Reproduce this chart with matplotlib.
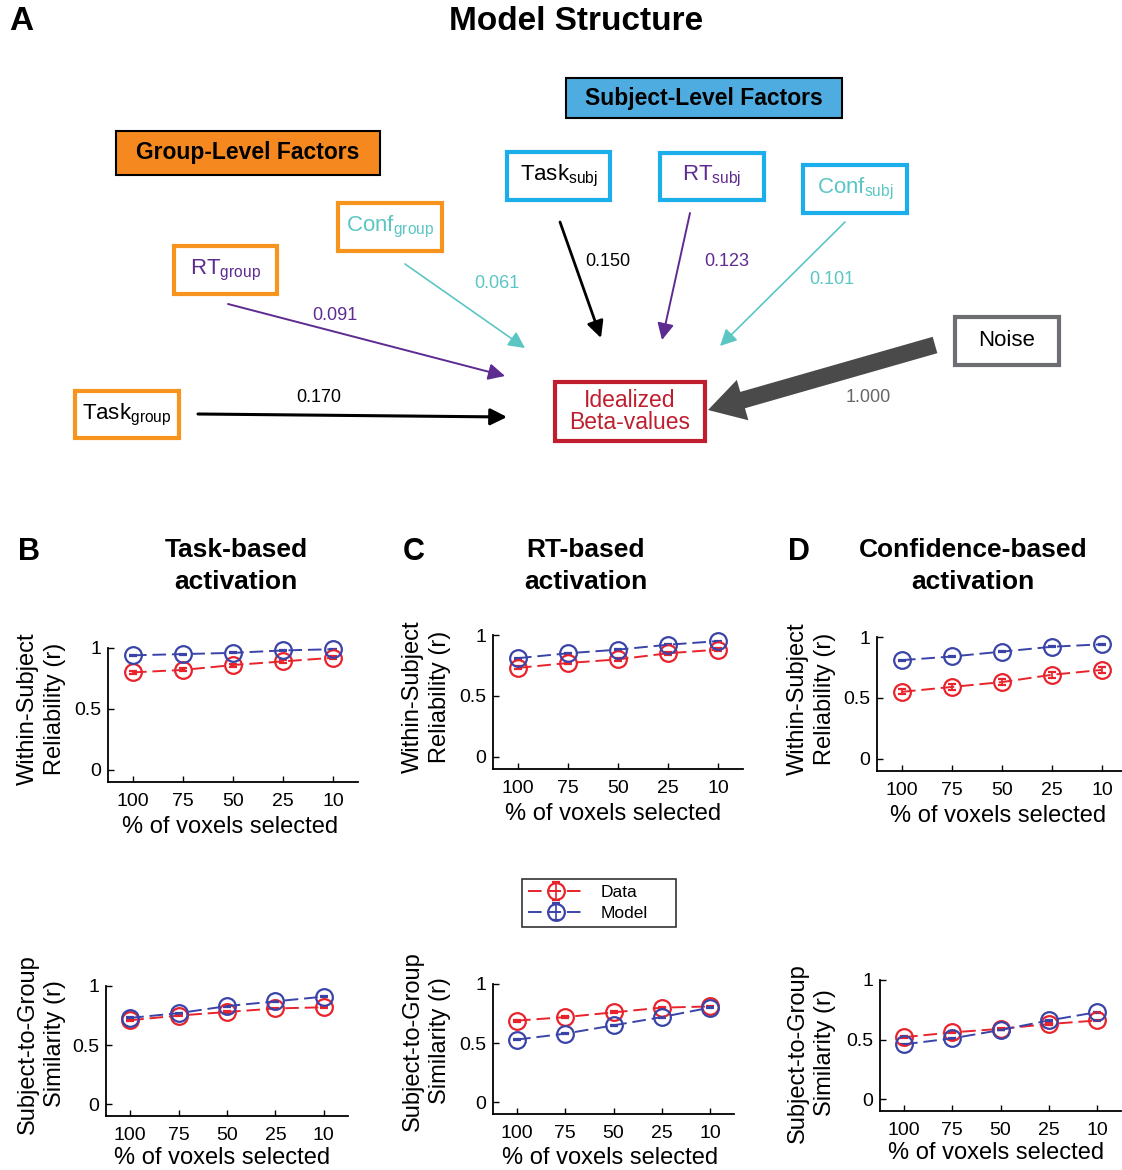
import matplotlib.pyplot as plt
import numpy as np
from matplotlib.patches import Rectangle, FancyArrowPatch, FancyArrow

plt.rcParams['font.family'] = ['Liberation Sans', 'DejaVu Sans']
plt.rcParams['mathtext.default'] = 'regular'

W, H = 1122, 1170
fig = plt.figure(figsize=[W / 100, H / 100], dpi=100)

# ---- data ----
pct_labels = ['100', '75', '50', '25', '10']

task_within_data = [0.80, 0.82, 0.86, 0.89, 0.92]
task_within_model = [0.94, 0.95, 0.96, 0.98, 0.99]
rt_within_data = [0.73, 0.77, 0.80, 0.85, 0.88]
rt_within_model = [0.81, 0.85, 0.88, 0.92, 0.95]
conf_within_data = [0.55, 0.59, 0.63, 0.69, 0.73]
conf_within_model = [0.81, 0.84, 0.88, 0.92, 0.94]

task_group_data = [0.71, 0.75, 0.78, 0.81, 0.82]
task_group_model = [0.73, 0.77, 0.83, 0.87, 0.91]
rt_group_data = [0.69, 0.72, 0.76, 0.80, 0.81]
rt_group_model = [0.53, 0.58, 0.65, 0.72, 0.80]
conf_group_data = [0.52, 0.56, 0.59, 0.63, 0.66]
conf_group_model = [0.46, 0.51, 0.58, 0.66, 0.73]

within_data_err = [0.012, 0.012, 0.012, 0.012, 0.012]
conf_within_data_err = [0.022, 0.025, 0.022, 0.025, 0.025]
group_data_err = [0.008, 0.008, 0.008, 0.008, 0.008]
model_err = [0.004, 0.004, 0.004, 0.004, 0.004]

# path weights of the model diagram
w_task_group, w_rt_group, w_conf_group = 0.170, 0.091, 0.061
w_task_subj, w_rt_subj, w_conf_subj = 0.150, 0.123, 0.101
w_noise = 1.000

RED = '#E8232B'
BLUE = '#3A44A8'
ORANGE = '#F7941D'
CYAN = '#1BAEEA'
PURPLE = '#5E2B91'
TEAL = '#5BC6C4'
DARKRED = '#BE1E2D'

# ---- panel A: diagram drawn in pixel coordinates ----
ax0 = fig.add_axes([0, 0, 1, 1])
ax0.set_xlim(0, W)
ax0.set_ylim(H, 0)
ax0.axis('off')

ax0.text(9, 21, 'A', fontsize=24, fontweight='bold', va='center')
ax0.text(576, 21, 'Model Structure', fontsize=24, fontweight='bold', ha='center', va='center')


def node(x0, y0, x1, y1, s, tcol, ecol, fc='white', lw=3, fs=16, bold=False):
    ax0.add_patch(Rectangle((x0, y0), x1 - x0, y1 - y0, fc=fc, ec=ecol, lw=lw))
    ax0.text((x0 + x1) / 2, (y0 + y1) / 2, s, color=tcol, ha='center', va='center',
             fontsize=fs, fontweight='bold' if bold else 'normal', linespacing=0.9)


node(116, 131, 380, 175, 'Group-Level Factors', 'black', 'black', fc='#F5891F', lw=1.5, fs=16.5, bold=True)
node(566, 78, 842, 118, 'Subject-Level Factors', 'black', 'black', fc='#4FACE0', lw=1.5, fs=16.5, bold=True)

node(507, 152, 610, 200, r'Task$_{subj}$', 'black', CYAN)
node(660, 153, 764, 200, r'RT$_{subj}$', PURPLE, CYAN)
node(803, 165, 907, 213, r'Conf$_{subj}$', TEAL, CYAN)
node(338, 203, 442, 251, r'Conf$_{group}$', TEAL, ORANGE)
node(174, 246, 277, 294, r'RT$_{group}$', PURPLE, ORANGE)
node(75, 391, 179, 438, r'Task$_{group}$', 'black', ORANGE)
node(955, 317, 1059, 365, 'Noise', 'black', '#6D6E71')
node(555, 382, 705, 441, 'Idealized\nBeta-values', DARKRED, DARKRED, fs=16.5)


def arrow(p0, p1, color, lw, hl=10, hw=5):
    ax0.add_patch(FancyArrowPatch(p0, p1, arrowstyle=f'-|>,head_length={hl},head_width={hw}',
                                  color=color, lw=lw, shrinkA=0, shrinkB=0))


arrow((198, 414), (507, 417), 'black', 2.2)
arrow((228, 304), (505, 376), PURPLE, 1.4)
arrow((405, 264), (525, 348), TEAL, 1.2)
arrow((560, 222), (601, 338), 'black', 2.0)
arrow((690, 213), (662, 340), PURPLE, 1.4)
arrow((845, 222), (720, 346), TEAL, 1.2)
ax0.add_patch(FancyArrow(935, 345, 708 - 935, 410 - 345, width=17, head_width=42,
                         head_length=36, length_includes_head=True, color='#4A4A4A', lw=0))

fmt = '{:.3f}'
ax0.text(319, 398, fmt.format(w_task_group), fontsize=13, ha='center', va='center')
ax0.text(335, 316, fmt.format(w_rt_group), fontsize=13, ha='center', va='center', color=PURPLE)
ax0.text(497, 283, fmt.format(w_conf_group), fontsize=13, ha='center', va='center', color=TEAL)
ax0.text(608, 262, fmt.format(w_task_subj), fontsize=13, ha='center', va='center')
ax0.text(727, 261, fmt.format(w_rt_subj), fontsize=13, ha='center', va='center', color=PURPLE)
ax0.text(832, 279, fmt.format(w_conf_subj), fontsize=13, ha='center', va='center', color=TEAL)
ax0.text(868, 398, fmt.format(w_noise), fontsize=13, ha='center', va='center', color='#666666')

# ---- panel titles ----
for letter, lx, title, tx in [('B', 18, 'Task-based\nactivation', 236),
                               ('C', 403, 'RT-based\nactivation', 586),
                               ('D', 788, 'Confidence-based\nactivation', 973)]:
    ax0.text(lx, 552, letter, fontsize=22, fontweight='bold', va='center')
    ax0.text(tx, 566, title, fontsize=19, fontweight='bold', ha='center', va='center', linespacing=1.45)

# ---- line plots ----
x = np.arange(1, 6)
panels = [
    # left, top, right, bottom, data, data_err, model, ylabel, ylab x, ylab y, xlab x, xlab y
    (108, 648, 358, 782, task_within_data, within_data_err, task_within_model,
     'Within-Subject\nReliability (r)', 41, 709, 230, 827),
    (493, 635, 743, 769, rt_within_data, within_data_err, rt_within_model,
     'Within-Subject\nReliability (r)', 426, 697, 613, 814),
    (877, 637, 1127, 771, conf_within_data, conf_within_data_err, conf_within_model,
     'Within-Subject\nReliability (r)', 811, 699, 998, 816),
    (106, 986, 348, 1116, task_group_data, group_data_err, task_group_model,
     'Subject-to-Group\nSimilarity (r)', 41, 1044, 222, 1158),
    (493, 984, 734, 1114, rt_group_data, group_data_err, rt_group_model,
     'Subject-to-Group\nSimilarity (r)', 426, 1041, 610, 1158),
    (880, 980, 1121, 1111, conf_group_data, group_data_err, conf_group_model,
     'Subject-to-Group\nSimilarity (r)', 811, 1053, 996, 1153),
]

handles = None
for l, t, r, b, dat, derr, mod, ylab, ylx, yly, xlx, xly in panels:
    ax = fig.add_axes([l / W, 1 - b / H, (r - l) / W, (b - t) / H])
    ax.patch.set_alpha(0)
    hd = ax.errorbar(x, dat, yerr=derr, fmt='o--', color=RED, mfc='none', mec=RED,
                     ms=12, mew=1.6, lw=1.4, capsize=3, elinewidth=1.2, clip_on=False, label='Data')
    hm = ax.errorbar(x, mod, yerr=model_err, fmt='o--', color=BLUE, mfc='none', mec=BLUE,
                     ms=12, mew=1.6, lw=1.4, capsize=3, elinewidth=1.2, clip_on=False, label='Model')
    hd[0].set_dashes([7, 3])
    hm[0].set_dashes([7, 3])
    handles = [hd, hm]
    ax.set_xlim(0.5, 5.5)
    ax.set_ylim(-0.1, 1.0)
    ax.set_xticks(x)
    ax.set_xticklabels(pct_labels)
    ax.set_yticks([0, 0.5, 1])
    ax.set_yticklabels(['0', '0.5', '1'])
    ax.spines['top'].set_visible(False)
    ax.spines['right'].set_visible(False)
    ax.spines['left'].set_linewidth(1.3)
    ax.spines['bottom'].set_linewidth(1.3)
    ax.tick_params(direction='in', length=4, width=1, labelsize=14)
    ax.tick_params(axis='x', pad=8)
    ax.tick_params(axis='y', pad=5)
    ax0.text(ylx, yly, ylab, rotation=90, fontsize=17, ha='center', va='center', linespacing=1.3)
    ax0.text(xlx, xly, '% of voxels selected', fontsize=17, ha='center', va='center')

leg = fig.legend(handles, ['Data', 'Model'], loc='upper left',
                 bbox_to_anchor=(522 / W, 1 - 929 / H, 154 / W, 50 / H), mode='expand',
                 fontsize=12.5, frameon=True, fancybox=False, edgecolor='black',
                 handlelength=3.2, borderpad=0.35, labelspacing=0.3, handletextpad=1.0,
                 borderaxespad=0)
leg.get_frame().set_linewidth(1.2)

plt.savefig('out.png', dpi=100)
